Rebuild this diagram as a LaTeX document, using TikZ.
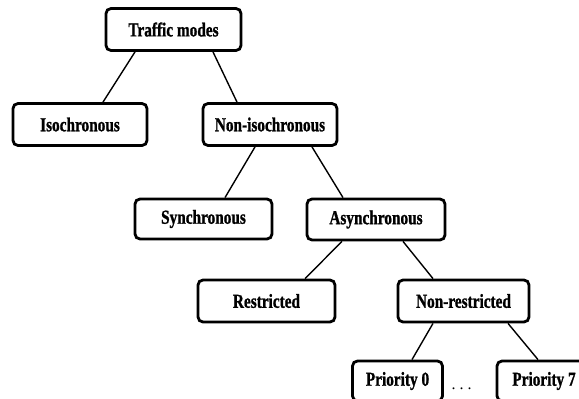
\documentclass[tikz,border=0pt]{standalone}
\usepackage{fontspec}
\usepackage{graphicx}
\setmainfont{Liberation Serif}
\newfontfamily\heavyfont[FakeBold=1.2]{Liberation Serif Bold}
\newcommand{\boxlabel}[1]{\scalebox{0.85}[1.1]{\fontsize{18}{20}\selectfont\heavyfont #1}}
\begin{document}
\begin{tikzpicture}[x=1pt,y=-1pt,
  mode/.style={draw=black,line width=2.8pt,rounded corners=5pt,fill=white,
    minimum width=#1,inner sep=0pt,minimum height=42pt},
  mode/.default=135pt,
  link/.style={line width=1.4pt}]
\useasboundingbox (0,0) rectangle (579,399);
\clip (0,0) rectangle (579,399);
% tree of traffic classes
\node[mode=135pt] (traffic) at (173.5,29.5) {\boxlabel{Traffic modes}};
\node[mode=134pt] (iso) at (80,124.5) {\boxlabel{Isochronous}};
\node[mode=134pt] (noniso) at (270,124.5) {\boxlabel{Non-isochronous}};
\node[mode=137pt,minimum height=40pt] (sync) at (203.5,219) {\boxlabel{Synchronous}};
\node[mode=138pt,minimum height=41pt] (async) at (376,219.5) {\boxlabel{Asynchronous}};
\node[mode=137pt] (restr) at (266.5,301) {\boxlabel{Restricted}};
\node[mode=131pt] (nonrestr) at (463.5,301) {\boxlabel{Non-restricted}};
\node[mode=90pt,minimum height=40pt] (p0) at (397.5,381) {\boxlabel{Priority 0}};
\node[mode=94pt,minimum height=40pt] (p7) at (544,381) {\boxlabel{Priority 7}};
\node[font=\fontsize{16}{16}\selectfont] (dots) at (461.5,389) {.\hspace{4pt}.\hspace{4pt}.};
% branches
\draw[link] ([xshift=-38.5pt]traffic.south) -- ([xshift=23pt]iso.north);
\draw[link] ([xshift=39.5pt]traffic.south) -- ([xshift=-33pt]noniso.north);
\draw[link] ([xshift=-15pt]noniso.south) -- ([xshift=21.5pt]sync.north);
\draw[link] ([xshift=42pt]noniso.south) -- ([xshift=-33pt]async.north);
\draw[link] ([xshift=-34pt]async.south) -- ([xshift=38.5pt]restr.north);
\draw[link] ([xshift=27pt]async.south) -- ([xshift=-30.5pt]nonrestr.north);
\draw[link] ([xshift=-30.5pt]nonrestr.south) -- ([xshift=14.5pt]p0.north);
\draw[link] ([xshift=44.5pt]nonrestr.south) -- ([xshift=-6pt]p7.north);
\end{tikzpicture}
\end{document}
